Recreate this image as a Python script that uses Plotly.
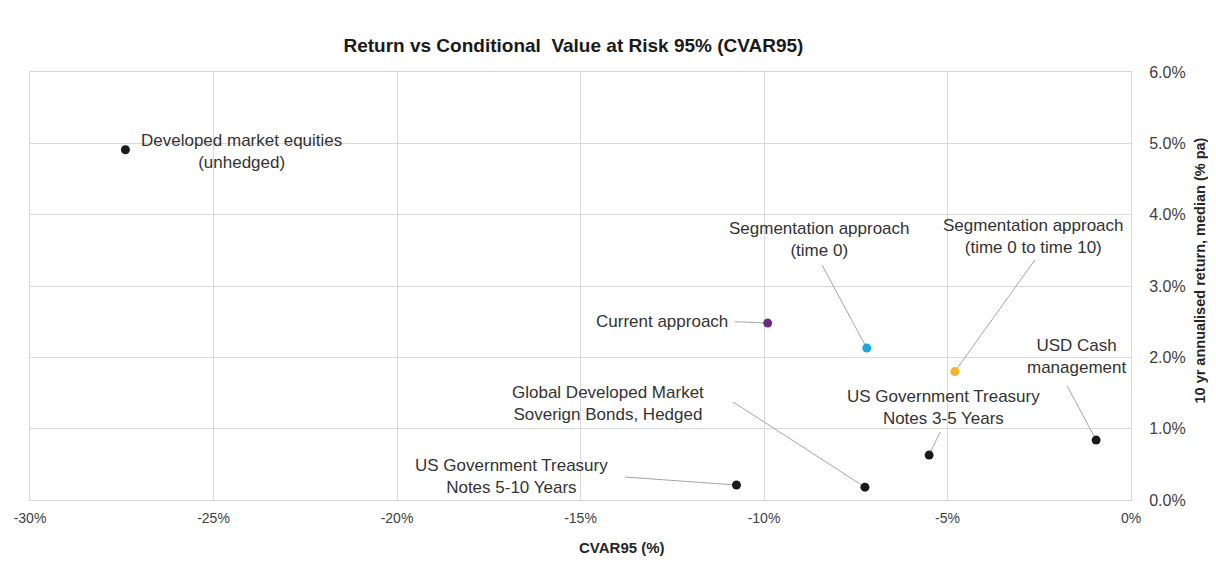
import plotly.graph_objects as go

# ---- data ----
names = [
    "Developed market equities<br>(unhedged)",
    "Current approach",
    "Segmentation approach<br>(time 0)",
    "Segmentation approach<br>(time 0 to time 10)",
    "USD Cash<br>management",
    "US Government Treasury<br>Notes 3-5 Years",
    "Global Developed Market<br>Soverign Bonds, Hedged",
    "US Government Treasury<br>Notes 5-10 Years",
]
cvar95 = [-27.4, -9.9, -7.2, -4.8, -0.95, -5.5, -7.25, -10.75]
ret_median = [4.91, 2.48, 2.13, 1.80, 0.84, 0.63, 0.18, 0.21]
colors = ["#1a1a1a", "#6b2a86", "#1ea7db", "#f7b12a", "#1a1a1a", "#1a1a1a", "#1a1a1a", "#1a1a1a"]

x_ticks = [-30, -25, -20, -15, -10, -5, 0]
y_ticks = [0, 1, 2, 3, 4, 5, 6]

# ---- label layout (positions in axis units) ----
label_pos = [(-24.25, 4.88), (-10.93, 2.50), (-8.50, 3.645), (-2.67, 3.69),
             (-1.47, 2.005), (-5.12, 1.29), (-14.25, 1.346), (-16.87, 0.336)]
label_anchor = ["center", "right", "center", "center", "center", "center", "center", "center"]
leader_start = [None, (-10.79, 2.50), (-8.42, 3.295), (-2.62, 3.365),
                (-1.74, 1.60), (-5.20, 0.953), (-10.84, 1.374), (-13.79, 0.322)]

fig = go.Figure()

# leader lines
lx, ly = [], []
for s, px, py in zip(leader_start, cvar95, ret_median):
    if s is None:
        continue
    lx += [s[0], px, None]
    ly += [s[1], py, None]
fig.add_trace(go.Scatter(x=lx, y=ly, mode="lines",
                         line=dict(color="#a6a6a6", width=1), hoverinfo="skip",
                         showlegend=False))

fig.add_trace(go.Scatter(x=cvar95, y=ret_median, mode="markers",
                         marker=dict(color=colors, size=9),
                         text=names, hoverinfo="text", showlegend=False))

font_main = "Liberation Sans, Arial, sans-serif"
for t, (tx, ty), anc in zip(names, label_pos, label_anchor):
    fig.add_annotation(x=tx, y=ty, text=t, showarrow=False, xanchor=anc,
                       yanchor="middle", align="center",
                       font=dict(family=font_main, size=17, color="#333333"))

fig.add_annotation(x=0.538, y=-0.11, xref="paper", yref="paper", text="<b>CVAR95 (%)</b>",
                   showarrow=False, xanchor="center", yanchor="middle",
                   font=dict(family=font_main, size=15, color="#262626"))
fig.add_annotation(x=1.063, y=0.537, xref="paper", yref="paper",
                   text="<b>10 yr annualised return, median (% pa)</b>", textangle=-90,
                   showarrow=False, xanchor="center", yanchor="middle",
                   font=dict(family=font_main, size=14.5, color="#262626"))

fig.update_layout(
    width=1216, height=563,
    margin=dict(l=22, r=93, t=64, b=71),
    paper_bgcolor="white", plot_bgcolor="white",
    title=dict(text="<b>Return vs Conditional  Value at Risk 95% (CVAR95)</b>",
               x=0.465, xanchor="center", y=0.934, yanchor="middle",
               font=dict(family=font_main, size=19, color="#1a1a1a")),
    xaxis=dict(range=[-30, 0], tickvals=x_ticks, ticktext=[f"{v}%" for v in x_ticks],
               showgrid=True, gridcolor="#d9d9d9", gridwidth=1, zeroline=False,
               showline=True, mirror=True, linecolor="#d4d4d4", linewidth=1.2,
               ticks="", ticklen=0, ticklabelstandoff=5, automargin=False,
               tickfont=dict(family=font_main, size=14, color="#404040")),
    yaxis=dict(range=[0, 6], side="right", tickvals=y_ticks,
               ticktext=[f"{v:.1f}%" for v in y_ticks],
               showgrid=True, gridcolor="#d9d9d9", gridwidth=1, zeroline=False,
               showline=True, mirror=True, linecolor="#d9d9d9", linewidth=1,
               ticks="", ticklabelstandoff=14, automargin=False,
               tickfont=dict(family=font_main, size=16, color="#404040")),
)

fig.write_html("out.html")
